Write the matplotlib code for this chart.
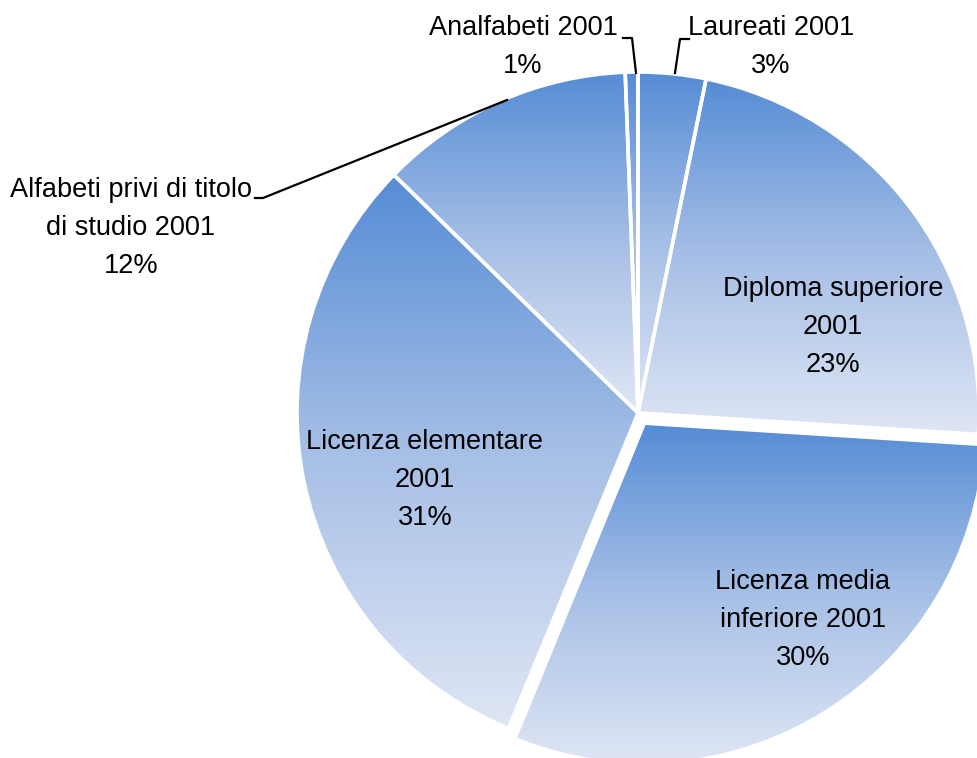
import numpy as np
import matplotlib.pyplot as plt
from matplotlib.colors import LinearSegmentedColormap

# valori (percentuali)
etichette = ['Laureati 2001', 'Diploma superiore\n2001', 'Licenza media\ninferiore 2001',
             'Licenza elementare\n2001', 'Alfabeti privi di titolo\ndi studio 2001', 'Analfabeti 2001']
valori = [3.2, 22.8, 30.2, 31.1, 12.1, 0.6]
percentuali = ['3%', '23%', '30%', '31%', '12%', '1%']
esplodi = [0, 0, 12, 0, 0, 0]   # spostamento in pixel (unita' dati)

W, H = 978, 758
font = ['Liberation Sans Narrow', 'Liberation Sans', 'DejaVu Sans']

fig = plt.figure(figsize=(W / 100, H / 100), dpi=100)
ax = fig.add_axes([0, 0, 1, 1])

cx, cy, r = 638, H - 413, 341

wedges, _ = ax.pie(valori, center=(cx, cy), radius=r, startangle=90, counterclock=False,
                   explode=esplodi, frame=True,
                   wedgeprops=dict(facecolor='none', edgecolor='white', linewidth=2.6, zorder=3))

cmap = LinearSegmentedColormap.from_list('sfumatura', ['#dfe6f4', '#a6bfe6', '#558cd5'])
grad = np.linspace(1, 0, 256).reshape(-1, 1)
for w in wedges:
    bb = w.get_path().get_extents()
    im = ax.imshow(grad, cmap=cmap, aspect='auto', extent=(bb.x0, bb.x1, bb.y0, bb.y1),
                   origin='upper', zorder=2, interpolation='bicubic')
    im.set_clip_path(w)

ax.set_xlim(0, W)
ax.set_ylim(0, H)
ax.set_aspect('auto')
ax.axis('off')

# posizioni delle etichette (pixel)
pos = [(771, 47), (833, 327), (803, 620), (425, 480), (131, 228), (523, 47)]
for lab, p, (x, y) in zip(etichette, percentuali, pos):
    ax.text(x, H - y, lab + '\n' + p, ha='center', va='center', fontsize=19.5,
            family=font, color='black', linespacing=1.6, zorder=5)

# linee di richiamo
richiami = [
    [(689, 39), (680, 39), (675, 73)],
    [(623, 38), (632, 38), (636, 73)],
    [(255, 198), (263, 198), (507, 100)],
]
for pts in richiami:
    xs = [p[0] for p in pts]
    ys = [H - p[1] for p in pts]
    ax.plot(xs, ys, color='black', linewidth=1.6, zorder=4)

fig.savefig('out.png', dpi=100)
